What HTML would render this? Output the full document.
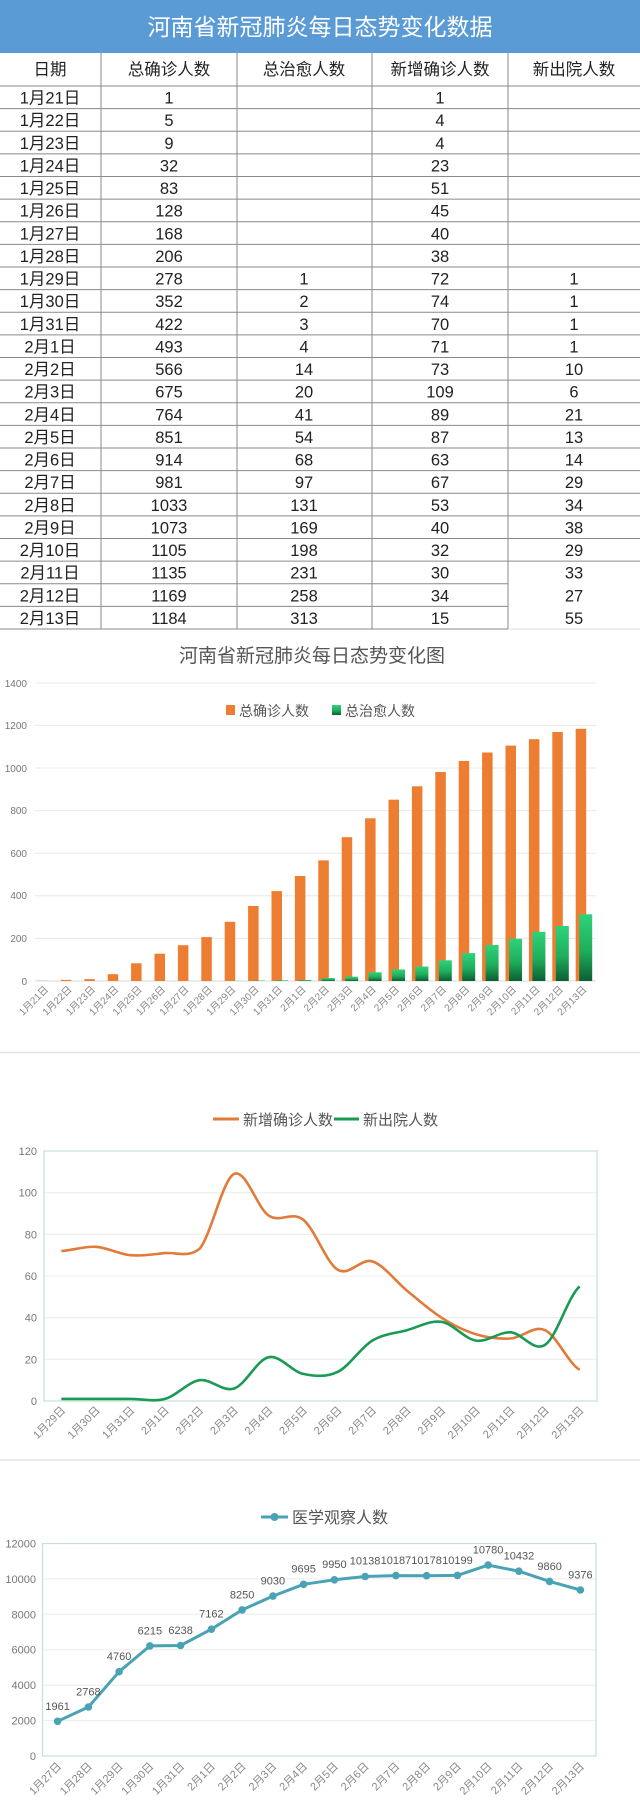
<!DOCTYPE html>
<html><head><meta charset="utf-8"><style>
html,body{margin:0;padding:0;background:#fff;}
svg{display:block;font-family:"Liberation Sans","Noto Sans CJK SC",sans-serif;}
</style></head><body>
<svg width="640" height="1807" viewBox="0 0 640 1807" xmlns="http://www.w3.org/2000/svg">
<defs>
<linearGradient id="gg" x1="0" y1="0" x2="0" y2="1"><stop offset="0" stop-color="#2fd27a"/><stop offset="0.55" stop-color="#1fae5c"/><stop offset="1" stop-color="#0b5e33"/></linearGradient>
</defs>
<rect x="0" y="0" width="640" height="1807" fill="#fff"/>
<rect x="0" y="0" width="640" height="53" fill="#5b9bd5"/>
<text x="320" y="35" font-size="23" fill="#fff" text-anchor="middle" font-family="Noto Sans CJK SC, sans-serif">河南省新冠肺炎每日态势变化数据</text>
<g stroke="#8a8a8a" stroke-width="1">
<line x1="101" y1="53" x2="101" y2="629"/><line x1="237" y1="53" x2="237" y2="629"/><line x1="372" y1="53" x2="372" y2="629"/><line x1="508" y1="53" x2="508" y2="629"/>
<line x1="0" y1="86" x2="640" y2="86"/>
<line x1="0" y1="108.6" x2="640" y2="108.6"/><line x1="0" y1="131.3" x2="640" y2="131.3"/><line x1="0" y1="153.9" x2="640" y2="153.9"/><line x1="0" y1="176.5" x2="640" y2="176.5"/><line x1="0" y1="199.1" x2="640" y2="199.1"/><line x1="0" y1="221.8" x2="640" y2="221.8"/><line x1="0" y1="244.4" x2="640" y2="244.4"/><line x1="0" y1="267" x2="640" y2="267"/><line x1="0" y1="289.6" x2="640" y2="289.6"/><line x1="0" y1="312.3" x2="640" y2="312.3"/><line x1="0" y1="334.9" x2="640" y2="334.9"/><line x1="0" y1="357.5" x2="640" y2="357.5"/><line x1="0" y1="380.1" x2="640" y2="380.1"/><line x1="0" y1="402.8" x2="640" y2="402.8"/><line x1="0" y1="425.4" x2="640" y2="425.4"/><line x1="0" y1="448" x2="640" y2="448"/><line x1="0" y1="470.6" x2="640" y2="470.6"/><line x1="0" y1="493.3" x2="640" y2="493.3"/><line x1="0" y1="515.9" x2="640" y2="515.9"/><line x1="0" y1="538.5" x2="640" y2="538.5"/><line x1="0" y1="561.1" x2="640" y2="561.1"/><line x1="0" y1="583.8" x2="508" y2="583.8"/><line x1="0" y1="606.4" x2="508" y2="606.4"/><line x1="0" y1="629" x2="508" y2="629"/>
</g>
<line x1="508" y1="629" x2="640" y2="629" stroke="#ddd"/>
<g font-size="16.5" fill="#222" text-anchor="middle">
<g font-family="Noto Sans CJK SC, sans-serif" transform="translate(0,75)"><text x="50">日期</text><text x="169">总确诊人数</text><text x="304">总治愈人数</text><text x="440">新增确诊人数</text><text x="574">新出院人数</text></g>
<g transform="translate(0,103.5)"><text x="50">1月21日</text><text x="169">1</text><text x="440">1</text></g>
<g transform="translate(0,126.1)"><text x="50">1月22日</text><text x="169">5</text><text x="440">4</text></g>
<g transform="translate(0,148.8)"><text x="50">1月23日</text><text x="169">9</text><text x="440">4</text></g>
<g transform="translate(0,171.4)"><text x="50">1月24日</text><text x="169">32</text><text x="440">23</text></g>
<g transform="translate(0,194)"><text x="50">1月25日</text><text x="169">83</text><text x="440">51</text></g>
<g transform="translate(0,216.6)"><text x="50">1月26日</text><text x="169">128</text><text x="440">45</text></g>
<g transform="translate(0,239.3)"><text x="50">1月27日</text><text x="169">168</text><text x="440">40</text></g>
<g transform="translate(0,261.9)"><text x="50">1月28日</text><text x="169">206</text><text x="440">38</text></g>
<g transform="translate(0,284.5)"><text x="50">1月29日</text><text x="169">278</text><text x="304">1</text><text x="440">72</text><text x="574">1</text></g>
<g transform="translate(0,307.1)"><text x="50">1月30日</text><text x="169">352</text><text x="304">2</text><text x="440">74</text><text x="574">1</text></g>
<g transform="translate(0,329.8)"><text x="50">1月31日</text><text x="169">422</text><text x="304">3</text><text x="440">70</text><text x="574">1</text></g>
<g transform="translate(0,352.4)"><text x="50">2月1日</text><text x="169">493</text><text x="304">4</text><text x="440">71</text><text x="574">1</text></g>
<g transform="translate(0,375)"><text x="50">2月2日</text><text x="169">566</text><text x="304">14</text><text x="440">73</text><text x="574">10</text></g>
<g transform="translate(0,397.6)"><text x="50">2月3日</text><text x="169">675</text><text x="304">20</text><text x="440">109</text><text x="574">6</text></g>
<g transform="translate(0,420.3)"><text x="50">2月4日</text><text x="169">764</text><text x="304">41</text><text x="440">89</text><text x="574">21</text></g>
<g transform="translate(0,442.9)"><text x="50">2月5日</text><text x="169">851</text><text x="304">54</text><text x="440">87</text><text x="574">13</text></g>
<g transform="translate(0,465.5)"><text x="50">2月6日</text><text x="169">914</text><text x="304">68</text><text x="440">63</text><text x="574">14</text></g>
<g transform="translate(0,488.1)"><text x="50">2月7日</text><text x="169">981</text><text x="304">97</text><text x="440">67</text><text x="574">29</text></g>
<g transform="translate(0,510.8)"><text x="50">2月8日</text><text x="169">1033</text><text x="304">131</text><text x="440">53</text><text x="574">34</text></g>
<g transform="translate(0,533.4)"><text x="50">2月9日</text><text x="169">1073</text><text x="304">169</text><text x="440">40</text><text x="574">38</text></g>
<g transform="translate(0,556)"><text x="50">2月10日</text><text x="169">1105</text><text x="304">198</text><text x="440">32</text><text x="574">29</text></g>
<g transform="translate(0,578.6)"><text x="50">2月11日</text><text x="169">1135</text><text x="304">231</text><text x="440">30</text><text x="574">33</text></g>
<g transform="translate(0,601.3)"><text x="50">2月12日</text><text x="169">1169</text><text x="304">258</text><text x="440">34</text><text x="574">27</text></g>
<g transform="translate(0,623.9)"><text x="50">2月13日</text><text x="169">1184</text><text x="304">313</text><text x="440">15</text><text x="574">55</text></g>
</g>

<text x="312" y="662" font-size="19" fill="#555" text-anchor="middle" font-family="Noto Sans CJK SC, sans-serif">河南省新冠肺炎每日态势变化图</text>
<g stroke="#e8e8e8" stroke-width="1">
<line x1="35" y1="683" x2="596" y2="683"/><line x1="35" y1="725.4" x2="596" y2="725.4"/><line x1="35" y1="768" x2="596" y2="768"/><line x1="35" y1="810.6" x2="596" y2="810.6"/><line x1="35" y1="853.2" x2="596" y2="853.2"/><line x1="35" y1="895.8" x2="596" y2="895.8"/><line x1="35" y1="938.4" x2="596" y2="938.4"/></g>
<line x1="35" y1="981" x2="596" y2="981" stroke="#d8d8d8"/>
<g font-size="10" fill="#777" text-anchor="end">
<text x="27" y="687">1400</text><text x="27" y="729">1200</text><text x="27" y="772">1000</text><text x="27" y="814">800</text><text x="27" y="857">600</text><text x="27" y="899">400</text><text x="27" y="942">200</text><text x="27" y="985">0</text></g>
<rect x="226" y="705" width="9" height="10" fill="#ed7d31"/>
<text x="239" y="716" font-size="14" fill="#555" font-family="Noto Sans CJK SC, sans-serif">总确诊人数</text>
<rect x="332" y="705" width="9" height="10" fill="url(#gg)"/>
<text x="345" y="716" font-size="14" fill="#555" font-family="Noto Sans CJK SC, sans-serif">总治愈人数</text>
<g fill="#ed7d31">
<rect x="37.5" y="980.8" width="10.5" height="0.2"/><rect x="60.9" y="979.9" width="10.5" height="1.1"/><rect x="84.3" y="979.1" width="10.5" height="1.9"/><rect x="107.7" y="974.2" width="10.5" height="6.8"/><rect x="131.1" y="963.3" width="10.5" height="17.7"/><rect x="154.5" y="953.7" width="10.5" height="27.3"/><rect x="177.9" y="945.2" width="10.5" height="35.8"/><rect x="201.3" y="937.1" width="10.5" height="43.9"/><rect x="224.7" y="921.8" width="10.5" height="59.2"/><rect x="248.1" y="906" width="10.5" height="75"/><rect x="271.5" y="891.1" width="10.5" height="89.9"/><rect x="294.9" y="876" width="10.5" height="105"/><rect x="318.3" y="860.4" width="10.5" height="120.6"/><rect x="341.7" y="837.2" width="10.5" height="143.8"/><rect x="365.1" y="818.3" width="10.5" height="162.7"/><rect x="388.5" y="799.7" width="10.5" height="181.3"/><rect x="411.9" y="786.3" width="10.5" height="194.7"/><rect x="435.3" y="772" width="10.5" height="209"/><rect x="458.7" y="761" width="10.5" height="220"/><rect x="482.1" y="752.5" width="10.5" height="228.5"/><rect x="505.5" y="745.6" width="10.5" height="235.4"/><rect x="528.9" y="739.2" width="10.5" height="241.8"/><rect x="552.3" y="732" width="10.5" height="249"/><rect x="575.7" y="728.8" width="10.5" height="252.2"/></g>
<g fill="url(#gg)">
<rect x="228.2" y="980.8" width="13" height="0.2"/><rect x="251.6" y="980.6" width="13" height="0.4"/><rect x="275" y="980.4" width="13" height="0.6"/><rect x="298.4" y="980.1" width="13" height="0.9"/><rect x="321.8" y="978" width="13" height="3"/><rect x="345.2" y="976.7" width="13" height="4.3"/><rect x="368.6" y="972.3" width="13" height="8.7"/><rect x="392" y="969.5" width="13" height="11.5"/><rect x="415.4" y="966.5" width="13" height="14.5"/><rect x="438.8" y="960.3" width="13" height="20.7"/><rect x="462.2" y="953.1" width="13" height="27.9"/><rect x="485.6" y="945" width="13" height="36"/><rect x="509" y="938.8" width="13" height="42.2"/><rect x="532.4" y="931.8" width="13" height="49.2"/><rect x="555.8" y="926" width="13" height="55"/><rect x="579.2" y="914.3" width="13" height="66.7"/></g>
<g font-size="10" fill="#888" text-anchor="end">
<text transform="translate(49,990) rotate(-45)">1月21日</text><text transform="translate(72.4,990) rotate(-45)">1月22日</text><text transform="translate(95.8,990) rotate(-45)">1月23日</text><text transform="translate(119.2,990) rotate(-45)">1月24日</text><text transform="translate(142.6,990) rotate(-45)">1月25日</text><text transform="translate(166,990) rotate(-45)">1月26日</text><text transform="translate(189.4,990) rotate(-45)">1月27日</text><text transform="translate(212.8,990) rotate(-45)">1月28日</text><text transform="translate(236.2,990) rotate(-45)">1月29日</text><text transform="translate(259.6,990) rotate(-45)">1月30日</text><text transform="translate(283,990) rotate(-45)">1月31日</text><text transform="translate(306.4,990) rotate(-45)">2月1日</text><text transform="translate(329.8,990) rotate(-45)">2月2日</text><text transform="translate(353.2,990) rotate(-45)">2月3日</text><text transform="translate(376.6,990) rotate(-45)">2月4日</text><text transform="translate(400,990) rotate(-45)">2月5日</text><text transform="translate(423.4,990) rotate(-45)">2月6日</text><text transform="translate(446.8,990) rotate(-45)">2月7日</text><text transform="translate(470.2,990) rotate(-45)">2月8日</text><text transform="translate(493.6,990) rotate(-45)">2月9日</text><text transform="translate(517,990) rotate(-45)">2月10日</text><text transform="translate(540.4,990) rotate(-45)">2月11日</text><text transform="translate(563.8,990) rotate(-45)">2月12日</text><text transform="translate(587.2,990) rotate(-45)">2月13日</text></g>
<line x1="0" y1="1052.5" x2="640" y2="1052.5" stroke="#e3e3e3" stroke-width="1.5"/>

<line x1="213" y1="1119" x2="239" y2="1119" stroke="#e07b39" stroke-width="3"/>
<text x="243" y="1125" font-size="15" fill="#555" font-family="Noto Sans CJK SC, sans-serif">新增确诊人数</text>
<line x1="334" y1="1119" x2="359" y2="1119" stroke="#1a9a55" stroke-width="3"/>
<text x="363" y="1125" font-size="15" fill="#555" font-family="Noto Sans CJK SC, sans-serif">新出院人数</text>
<g stroke="#ececec" stroke-width="1"><line x1="44" y1="1192.7" x2="597" y2="1192.7"/><line x1="44" y1="1234.3" x2="597" y2="1234.3"/><line x1="44" y1="1276" x2="597" y2="1276"/><line x1="44" y1="1317.7" x2="597" y2="1317.7"/><line x1="44" y1="1359.3" x2="597" y2="1359.3"/></g>
<rect x="44" y="1151" width="553" height="250" fill="none" stroke="#c9ded8" stroke-width="1.2"/>
<g font-size="11" fill="#777" text-anchor="end">
<text x="37" y="1155">120</text><text x="37" y="1196.7">100</text><text x="37" y="1238.3">80</text><text x="37" y="1280">60</text><text x="37" y="1321.7">40</text><text x="37" y="1363.3">20</text><text x="37" y="1405">0</text></g>
<path fill="none" stroke="#e07b39" stroke-width="2.6" d="M61.3,1251.0 C72.8,1250.3 84.4,1246.1 95.9,1246.8 C107.4,1247.5 118.9,1254.2 130.4,1255.2 C141.9,1256.3 153.5,1254.2 165.0,1253.1 C176.5,1252.1 188.0,1258 199.5,1248.9 C211.0,1235.7 222.6,1179.5 234.1,1173.9 C245.6,1168.4 257.2,1208.0 268.7,1215.6 C280.2,1223.2 291.7,1210.7 303.2,1219.7 C314.7,1228.7 326.3,1262.9 337.8,1269.8 C349.3,1276.8 360.8,1257.9 372.3,1261.4 C383.8,1264.9 395.4,1281.2 406.9,1290.6 C418.4,1300.0 430.0,1310.4 441.5,1317.7 C453.0,1325.0 464.5,1330.8 476.0,1334.3 C487.5,1337.8 499.1,1339.2 510.6,1338.5 C522.1,1337.8 533.6,1325.0 545.1,1330.2 C556.6,1335.4 568.2,1363.2 579.7,1369.8"/>
<path fill="none" stroke="#1a9a55" stroke-width="2.6" d="M61.3,1398.9 C72.8,1398.9 84.4,1398.9 95.9,1398.9 C107.4,1398.9 118.9,1398.9 130.4,1398.9 C141.9,1398.9 153.5,1402.0 165.0,1398.9 C176.5,1395.8 188.0,1381.9 199.5,1380.2 C211.0,1378.5 222.6,1392.3 234.1,1388.5 C245.6,1384.7 257.2,1359.6 268.7,1357.2 C280.2,1354.8 291.7,1371.5 303.2,1373.9 C314.7,1376.3 326.3,1377.4 337.8,1371.8 C349.3,1366.3 360.8,1347.5 372.3,1340.6 C383.8,1333.7 395.4,1333.3 406.9,1330.2 C418.4,1327.1 430.0,1320.1 441.5,1321.8 C453.0,1323.5 464.5,1338.9 476.0,1340.6 C487.5,1342.4 499.1,1331.6 510.6,1332.3 C522.1,1333.0 533.6,1352.5 545.1,1344.8 C556.6,1337.2 568.2,1296.1 579.7,1286.4"/>
<g font-size="11" fill="#888" text-anchor="end">
<text transform="translate(66,1411) rotate(-45)">1月29日</text><text transform="translate(100.6,1411) rotate(-45)">1月30日</text><text transform="translate(135.1,1411) rotate(-45)">1月31日</text><text transform="translate(169.7,1411) rotate(-45)">2月1日</text><text transform="translate(204.2,1411) rotate(-45)">2月2日</text><text transform="translate(238.8,1411) rotate(-45)">2月3日</text><text transform="translate(273.4,1411) rotate(-45)">2月4日</text><text transform="translate(307.9,1411) rotate(-45)">2月5日</text><text transform="translate(342.5,1411) rotate(-45)">2月6日</text><text transform="translate(377,1411) rotate(-45)">2月7日</text><text transform="translate(411.6,1411) rotate(-45)">2月8日</text><text transform="translate(446.2,1411) rotate(-45)">2月9日</text><text transform="translate(480.7,1411) rotate(-45)">2月10日</text><text transform="translate(515.3,1411) rotate(-45)">2月11日</text><text transform="translate(549.8,1411) rotate(-45)">2月12日</text><text transform="translate(584.4,1411) rotate(-45)">2月13日</text></g>
<line x1="0" y1="1460" x2="640" y2="1460" stroke="#e3e3e3" stroke-width="1.5"/>

<line x1="261" y1="1517" x2="288" y2="1517" stroke="#4aa3b5" stroke-width="3"/>
<circle cx="274.5" cy="1517" r="4" fill="#4aa3b5"/>
<text x="292" y="1523" font-size="16" fill="#555" font-family="Noto Sans CJK SC, sans-serif">医学观察人数</text>
<g stroke="#ececec" stroke-width="1"><line x1="42.5" y1="1578.9" x2="596" y2="1578.9"/><line x1="42.5" y1="1614.3" x2="596" y2="1614.3"/><line x1="42.5" y1="1649.7" x2="596" y2="1649.7"/><line x1="42.5" y1="1685.2" x2="596" y2="1685.2"/><line x1="42.5" y1="1720.6" x2="596" y2="1720.6"/></g>
<rect x="42.5" y="1543.5" width="553.5" height="212.5" fill="none" stroke="#c9ded8" stroke-width="1.2"/>
<g font-size="11" fill="#777" text-anchor="end">
<text x="36" y="1547.5">12000</text><text x="36" y="1582.9">10000</text><text x="36" y="1618.3">8000</text><text x="36" y="1653.7">6000</text><text x="36" y="1689.2">4000</text><text x="36" y="1724.6">2000</text><text x="36" y="1760">0</text></g>
<polyline fill="none" stroke="#4aa3b5" stroke-width="3" stroke-linejoin="round" points="57.6,1721.3 88.4,1707.0 119.1,1671.7 149.9,1645.9 180.6,1645.5 211.4,1629.2 242.1,1609.9 272.9,1596.1 303.6,1584.3 334.4,1579.8 365.1,1576.5 395.9,1575.6 426.6,1575.7 457.4,1575.4 488.1,1565.1 518.9,1571.2 549.6,1581.4 580.4,1590.0"/>
<g fill="#4aa3b5">
<circle cx="57.6" cy="1721.3" r="3.8"/><circle cx="88.4" cy="1707.0" r="3.8"/><circle cx="119.1" cy="1671.7" r="3.8"/><circle cx="149.9" cy="1645.9" r="3.8"/><circle cx="180.6" cy="1645.5" r="3.8"/><circle cx="211.4" cy="1629.2" r="3.8"/><circle cx="242.1" cy="1609.9" r="3.8"/><circle cx="272.9" cy="1596.1" r="3.8"/><circle cx="303.6" cy="1584.3" r="3.8"/><circle cx="334.4" cy="1579.8" r="3.8"/><circle cx="365.1" cy="1576.5" r="3.8"/><circle cx="395.9" cy="1575.6" r="3.8"/><circle cx="426.6" cy="1575.7" r="3.8"/><circle cx="457.4" cy="1575.4" r="3.8"/><circle cx="488.1" cy="1565.1" r="3.8"/><circle cx="518.9" cy="1571.2" r="3.8"/><circle cx="549.6" cy="1581.4" r="3.8"/><circle cx="580.4" cy="1590.0" r="3.8"/></g>
<g font-size="11" fill="#555" text-anchor="middle">
<text x="57.6" y="1710">1961</text><text x="88.4" y="1695.5">2768</text><text x="119.1" y="1660">4760</text><text x="149.9" y="1634.5">6215</text><text x="180.6" y="1634">6238</text><text x="211.4" y="1617.5">7162</text><text x="242.1" y="1598.5">8250</text><text x="272.9" y="1584.5">9030</text><text x="303.6" y="1572.5">9695</text><text x="334.4" y="1568">9950</text><text x="365.1" y="1564.5">10138</text><text x="395.9" y="1564">10187</text><text x="426.6" y="1564">10178</text><text x="457.4" y="1564">10199</text><text x="488.1" y="1553.5">10780</text><text x="518.9" y="1559.5">10432</text><text x="549.6" y="1570">9860</text><text x="580.4" y="1578.5">9376</text></g>
<g font-size="11" fill="#888" text-anchor="end">
<text transform="translate(62,1767) rotate(-45)">1月27日</text><text transform="translate(92.8,1767) rotate(-45)">1月28日</text><text transform="translate(123.5,1767) rotate(-45)">1月29日</text><text transform="translate(154.3,1767) rotate(-45)">1月30日</text><text transform="translate(185,1767) rotate(-45)">1月31日</text><text transform="translate(215.8,1767) rotate(-45)">2月1日</text><text transform="translate(246.5,1767) rotate(-45)">2月2日</text><text transform="translate(277.3,1767) rotate(-45)">2月3日</text><text transform="translate(308,1767) rotate(-45)">2月4日</text><text transform="translate(338.8,1767) rotate(-45)">2月5日</text><text transform="translate(369.5,1767) rotate(-45)">2月6日</text><text transform="translate(400.3,1767) rotate(-45)">2月7日</text><text transform="translate(431,1767) rotate(-45)">2月8日</text><text transform="translate(461.8,1767) rotate(-45)">2月9日</text><text transform="translate(492.5,1767) rotate(-45)">2月10日</text><text transform="translate(523.3,1767) rotate(-45)">2月11日</text><text transform="translate(554,1767) rotate(-45)">2月12日</text><text transform="translate(584.8,1767) rotate(-45)">2月13日</text></g>
</svg>
</body></html>
